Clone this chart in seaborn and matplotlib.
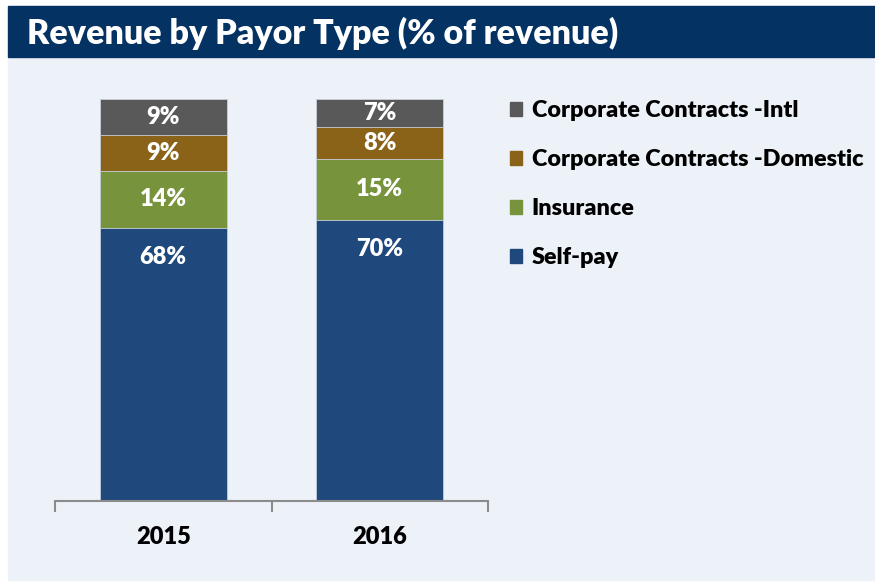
import matplotlib.pyplot as plt
import matplotlib.patches as mpatches
import numpy as np
import pandas as pd
import seaborn as sns

years = ['2015', '2016']
segments = ['Self-pay', 'Insurance', 'Corporate Contracts -Domestic', 'Corporate Contracts -Intl']
self_pay = [68, 70]
insurance = [14, 15]
corp_domestic = [9, 8]
corp_intl = [9, 7]
colors = ['#1F497D', '#77933C', '#8A6318', '#595959']

sns.set_theme(style='white')
plt.rcParams['font.family'] = ['Lato', 'DejaVu Sans']
plt.rcParams['text.color'] = 'black'

df = pd.DataFrame({'year': years, 'Self-pay': self_pay, 'Insurance': insurance,
                   'Corporate Contracts -Domestic': corp_domestic,
                   'Corporate Contracts -Intl': corp_intl})
cum = df[segments].cumsum(axis=1)

bg = '#EDF1F8'
fig = plt.figure(figsize=(8.75, 5.87), dpi=100)
fig.patch.set_facecolor('white')
# light panel and title banner
fig.patches.append(mpatches.Rectangle((8 / 875, 1 - 580 / 587), 867 / 875, 523 / 587,
                                      transform=fig.transFigure, color=bg, zorder=-5))
fig.patches.append(mpatches.Rectangle((8 / 875, 1 - 57 / 587), 867 / 875, 51 / 587,
                                      transform=fig.transFigure, color='#033263', zorder=-4))
fig.text(27 / 875, 1 - 33 / 587, 'Revenue by Payor Type (% of revenue)', color='white',
         fontsize=24.5, fontweight='heavy', va='center', ha='left')

ax = fig.add_axes([55 / 875, 1 - 501 / 587, 433 / 875, 402 / 587])
ax.set_zorder(2)
ax.patch.set_alpha(0)

# stacked bars: draw cumulative totals from top segment down
for seg, col in zip(segments[::-1], colors[::-1]):
    sns.barplot(x=df['year'], y=cum[seg], color=col, width=0.587, ax=ax,
                edgecolor='#C8D0DC', linewidth=0.6, saturation=1)

for i in range(len(years)):
    bottom = 0
    for seg in segments:
        v = df.loc[i, seg]
        if seg == 'Self-pay':
            y = bottom + v - 7.3
        else:
            y = bottom + v / 2
        ax.text(i, y, f'{v}%', ha='center', va='center', color='white',
                fontsize=17, fontweight='heavy')
        bottom += v

ax.set_xlim(-0.5, 1.5)
ax.set_ylim(0, 100)
ax.set_xlabel('')
ax.set_ylabel('')
ax.set_yticks([])
for s in ['top', 'right', 'left']:
    ax.spines[s].set_visible(False)
ax.spines['bottom'].set_color('#8C8C8C')
ax.spines['bottom'].set_linewidth(1.5)
ax.set_xticks([0, 1])
ax.set_xticklabels(years, fontsize=17, fontweight='heavy', color='black')
ax.tick_params(axis='x', which='major', length=0, pad=18)
ax.set_xticks([-0.5, 0.5, 1.5], minor=True)
ax.tick_params(axis='x', which='minor', length=8, width=1.5, color='#8C8C8C',
               direction='out', bottom=True)

handles = [mpatches.Patch(color=c, label=s) for s, c in zip(segments[::-1], colors[::-1])]
leg = fig.legend(handles=handles, loc='upper left', bbox_to_anchor=(501 / 875, 1 - 91 / 587),
                 frameon=False, handlelength=0.52, handleheight=0.52,
                 handletextpad=0.4, labelspacing=1.2, borderaxespad=0,
                 prop={'weight': 'heavy', 'size': 16.8})
for t in leg.get_texts():
    t.set_color('black')

fig.savefig('out.png', dpi=100, facecolor='white')
